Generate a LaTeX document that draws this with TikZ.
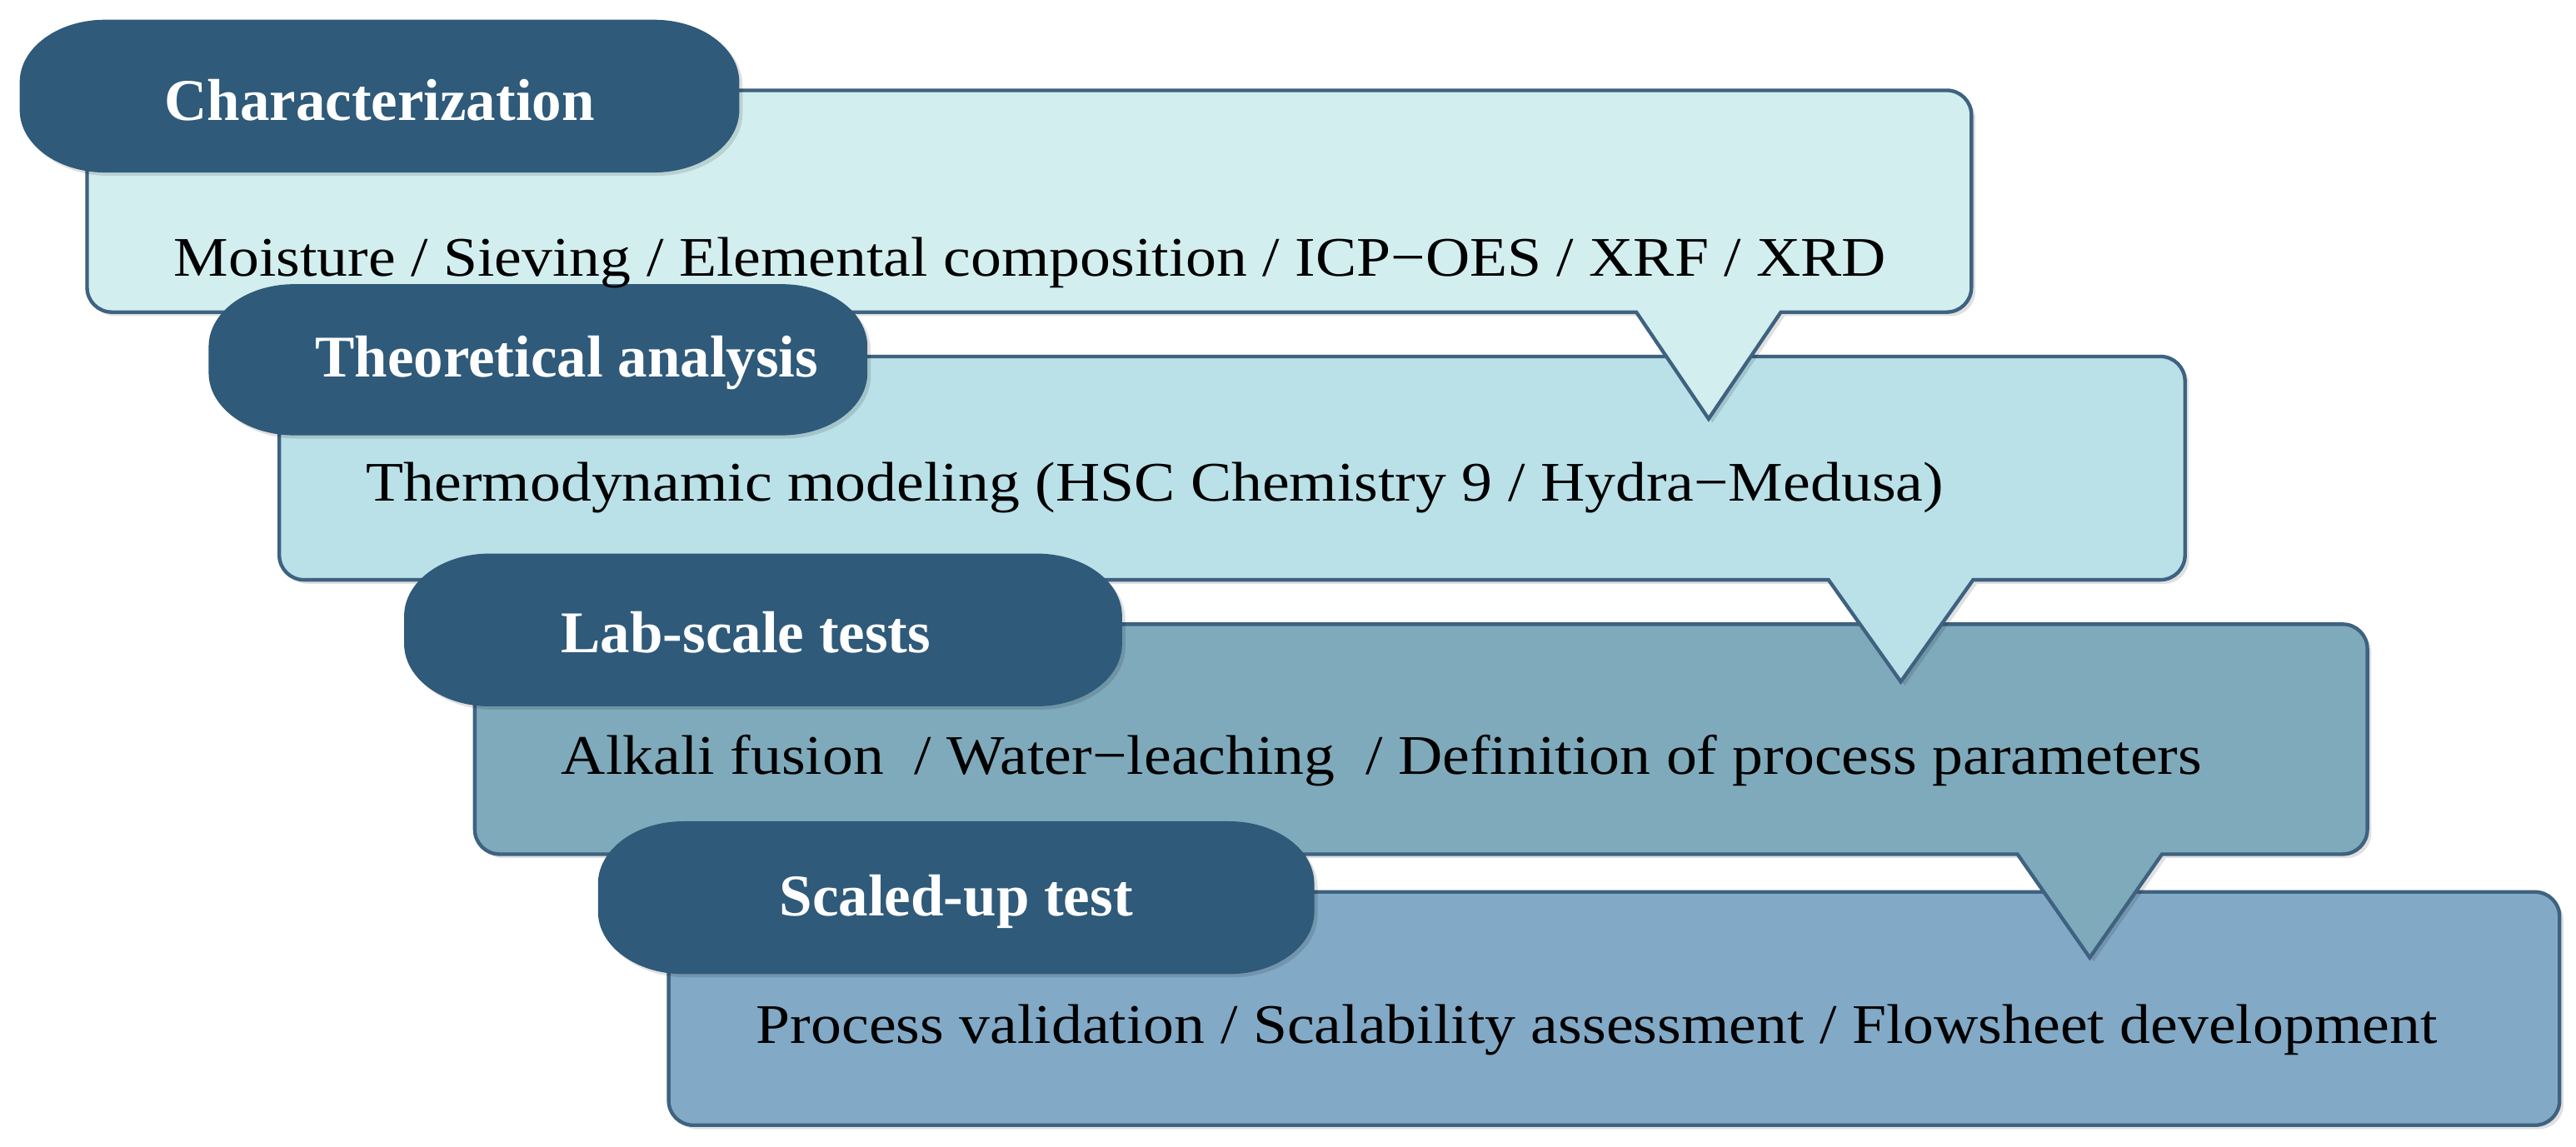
\documentclass[tikz,border=0pt]{standalone}
\usepackage{fontspec}
\setmainfont{Liberation Serif}
\usetikzlibrary{shadows}
\definecolor{pillc}{RGB}{47,90,122}
\definecolor{edgec}{RGB}{62,98,128}
\definecolor{boxa}{RGB}{211,238,238}
\definecolor{boxb}{RGB}{186,224,232}
\definecolor{boxc}{RGB}{127,170,187}
\definecolor{boxd}{RGB}{130,169,198}
\newcommand\pillpath[4]{%
  \pgfmathsetmacro\pillA{#1+52}\pgfmathsetmacro\pillB{#3-52}%
  \pgfmathsetmacro\pillC{#1+52-28.7}\pgfmathsetmacro\pillD{#3-52+28.7}%
  \pgfmathsetmacro\pillE{#2+38}\pgfmathsetmacro\pillF{#4-38}%
  \pgfmathsetmacro\pillG{#2+38-21}\pgfmathsetmacro\pillH{#4-38+21}%
  \fill[pillshape] (\pillA,#2) -- (\pillB,#2) .. controls (\pillD,#2) and (#3,\pillG) .. (#3,\pillE) -- (#3,\pillF) .. controls (#3,\pillH) and (\pillD,#4) .. (\pillB,#4) -- (\pillA,#4) .. controls (\pillC,#4) and (#1,\pillH) .. (#1,\pillF) -- (#1,\pillE) .. controls (#1,\pillG) and (\pillC,#2) .. (\pillA,#2) -- cycle;}
\newcommand\calloutpath[7]{%
  \filldraw[boxshape, fill=#7] (#5+44,#4) [rounded corners=7.5pt] -- (#3,#4) -- (#3,#2) -- (#1,#2) -- (#1,#4) [sharp corners] -- (#5-44,#4) -- (#5,#6) -- cycle;}
\begin{document}
\begin{tikzpicture}[x=0.5pt,y=-0.5pt,
  boxshape/.style={draw=edgec, line width=1.1pt, line join=miter,
    drop shadow={shadow xshift=1.2pt, shadow yshift=-1.2pt, opacity=0.12, fill=black}},
  pillshape/.style={fill=pillc,
    drop shadow={shadow xshift=1pt, shadow yshift=-1pt, opacity=0.12, fill=black}},
  titletext/.style={text=white, font=\fontsize{18}{21}\selectfont\bfseries, inner sep=0pt},
  bodytext/.style={text=black, font=\addfontfeatures{FakeStretch=1.1}\fontsize{17}{20}\selectfont, inner sep=0pt}]
\useasboundingbox (0,0) rectangle (1568,698);
% callout boxes, lowest first
\filldraw[boxshape, fill=boxd, rounded corners=7.5pt] (407,543) rectangle (1558,685);
\calloutpath{289}{380}{1441}{520}{1272}{583}{boxc}
\calloutpath{170}{217}{1330}{353}{1157}{415}{boxb}
\calloutpath{53}{55}{1200}{190}{1040}{255}{boxa}
% pills
\pillpath{12}{12}{450}{105}
\pillpath{127}{173}{528}{265}
\pillpath{246}{337}{683}{430}
\pillpath{364}{500}{800}{593}
% texts
\node[titletext] (t1) at (231,61) {Characterization};
\node[titletext] (t2) at (345,221) {Theoretical analysis};
\node[titletext] (t3) at (454,385) {Lab-scale tests};
\node[titletext] (t4) at (582,549) {Scaled-up test};
\node[bodytext] (d1) at (627,160) {Moisture / Sieving / Elemental composition / ICP−OES / XRF / XRD};
\node[bodytext] (d2) at (703,297) {Thermodynamic modeling (HSC Chemistry 9 / Hydra−Medusa)};
\node[bodytext] (d3) at (841,463) {Alkali fusion\ \ / Water−leaching\ \ / Definition of process parameters};
\node[bodytext] (d4) at (972,627) {Process validation / Scalability assessment / Flowsheet development};
\end{tikzpicture}
\end{document}
